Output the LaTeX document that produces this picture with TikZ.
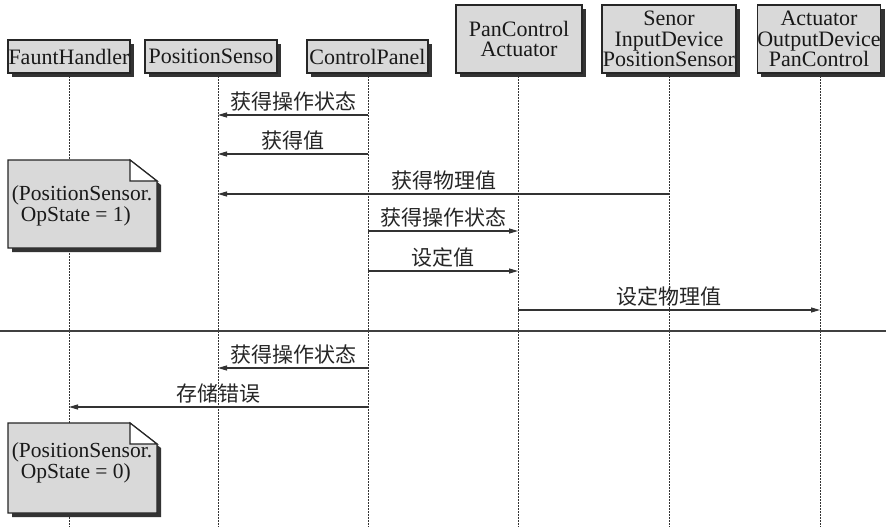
\documentclass[tikz,border=0pt]{standalone}
\usepackage{fontspec}
\setmainfont{Liberation Serif}
\newfontfamily\cjkfont{Noto Sans CJK SC}
\usetikzlibrary{arrows.meta,shadows}
\begin{document}
\begin{tikzpicture}[x=1pt,y=-1pt,
  obj/.style={draw=black!85, line width=1.2pt, fill=black!15,
    drop shadow={shadow xshift=4pt, shadow yshift=-4pt, fill=black!80, opacity=1},
    font=\fontsize{22}{20.5}\selectfont, align=center, inner sep=0pt, text=black!90},
  life/.style={black!80, line width=1pt, dash pattern=on 1.5pt off 1.5pt},
  msg/.style={black!80, line width=1.1pt, -{Triangle[length=9pt,width=5pt]}},
  lbl/.style={font=\cjkfont\fontsize{21}{21}\selectfont, text=black!85, inner sep=0pt},
  notebody/.style={fill=black!15, draw=black!85, line width=1.2pt},
  noteshadow/.style={fill=black!80},
  notetext/.style={font=\fontsize{21.5}{16}\selectfont, align=left, inner sep=0pt, text=black!90},
  sep/.style={black!75, line width=1.2pt}]
\useasboundingbox (0,0) rectangle (886,527);
\fill[white] (0,0) rectangle (886,527);

% lifeline ends
\coordinate (fhT) at (69,73);  \coordinate (fhB) at (69,527);
\coordinate (psT) at (218,73); \coordinate (psB) at (218,527);
\coordinate (cpT) at (368,73); \coordinate (cpB) at (368,527);
\coordinate (pcaT) at (518,73); \coordinate (pcaB) at (518,527);
\coordinate (sidT) at (669,73); \coordinate (sidB) at (669,527);
\coordinate (aodT) at (820,73); \coordinate (aodB) at (820,527);
\foreach \l in {fh,ps,cp,pca,sid,aod} \draw[life] (\l T) -- (\l B);

% objects
\node[obj, minimum width=122pt, minimum height=33pt] (fh) at (69,56.5) {FauntHandler};
\node[obj, minimum width=132pt, minimum height=33pt] (ps) at (211,56.5) {PositionSenso};
\node[obj, minimum width=121pt, minimum height=33pt] (cp) at (367.5,56.5) {ControlPanel};
\node[obj, minimum width=126pt, minimum height=68pt] (pca) at (519,39) {PanControl\\Actuator};
\node[obj, minimum width=134pt, minimum height=68pt] (sid) at (669,39) {Senor\\InputDevice\\PositionSensor};
\node[obj, minimum width=122pt, minimum height=68pt] (aod) at (819,39) {Actuator\\OutputDevice\\PanControl};

% separator
\coordinate (sepL) at (0,331); \coordinate (sepR) at (886,331);
\draw[sep] (sepL) -- (sepR);

% note 1
\fill[noteshadow] (12,164) -- (134,164) -- (161,185) -- (161,252) -- (12,252) -- cycle;
\path[notebody] (8,160) -- (130,160) -- (157,181) -- (157,248) -- (8,248) -- cycle;
\filldraw[fill=white, draw=black!85, line width=1.2pt] (130,160) -- (130,181) -- (157,181) -- cycle;
\node[notetext] (n1) at (82,206) {(PositionSensor.\\\hspace*{9pt}OpState = 1)};

% note 2
\fill[noteshadow] (12,427) -- (134,427) -- (161,448) -- (161,517) -- (12,517) -- cycle;
\path[notebody] (8,423) -- (130,423) -- (157,444) -- (157,513) -- (8,513) -- cycle;
\filldraw[fill=white, draw=black!85, line width=1.2pt] (130,423) -- (130,444) -- (157,444) -- cycle;
\node[notetext] (n2) at (82,463) {(PositionSensor.\\\hspace*{9pt}OpState = 0)};

% message end points
\coordinate (m1a) at (368,115); \coordinate (m1b) at (218,115);
\coordinate (m2a) at (368,154); \coordinate (m2b) at (218,154);
\coordinate (m3a) at (669,194); \coordinate (m3b) at (218,194);
\coordinate (m4a) at (368,231); \coordinate (m4b) at (518,231);
\coordinate (m5a) at (368,271); \coordinate (m5b) at (518,271);
\coordinate (m6a) at (518,310); \coordinate (m6b) at (820,310);
\coordinate (m7a) at (368,368); \coordinate (m7b) at (218,368);
\coordinate (m8a) at (368,407); \coordinate (m8b) at (69,407);

\draw[msg] (m1a) -- node[lbl, above=3pt] {获得操作状态} (m1b);
\draw[msg] (m2a) -- node[lbl, above=3pt] {获得值} (m2b);
\draw[msg] (m3a) -- node[lbl, above=3pt] {获得物理值} (m3b);
\draw[msg] (m4a) -- node[lbl, above=3pt] {获得操作状态} (m4b);
\draw[msg] (m5a) -- node[lbl, above=3pt] {设定值} (m5b);
\draw[msg] (m6a) -- node[lbl, above=3pt] {设定物理值} (m6b);
\draw[msg] (m7a) -- node[lbl, above=3pt] {获得操作状态} (m7b);
\draw[msg] (m8a) -- node[lbl, above=3pt] {存储错误} (m8b);
\end{tikzpicture}
\end{document}
